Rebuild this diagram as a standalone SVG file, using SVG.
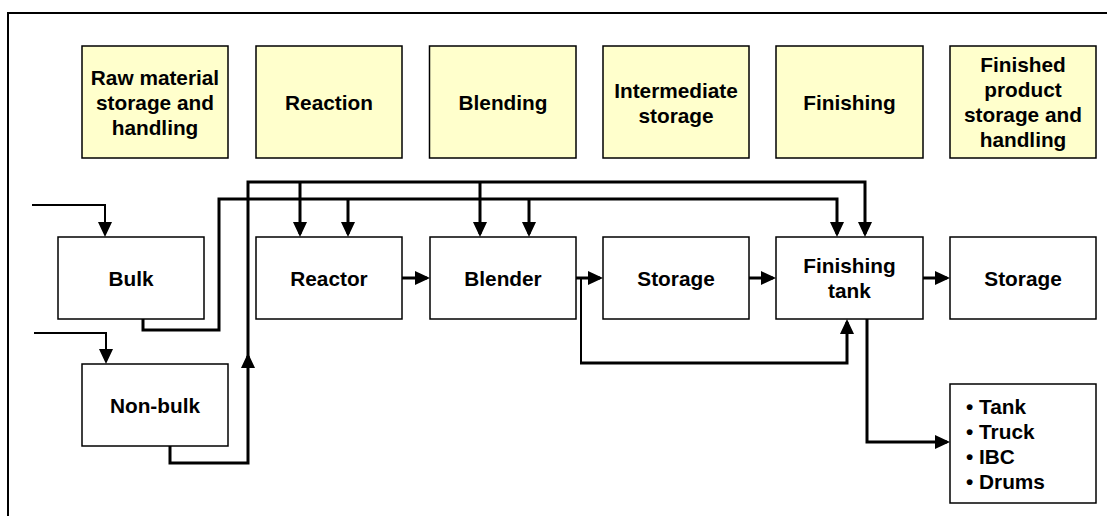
<svg xmlns="http://www.w3.org/2000/svg" width="1107" height="516" viewBox="0 0 1107 516">
<style>
.stage rect{fill:#FFFFCC;stroke:#000;stroke-width:1.5}
.box rect{fill:#fff;stroke:#000;stroke-width:1.5}
text{font-family:"Liberation Sans",Arial,sans-serif;font-weight:bold;font-size:20.8px;fill:#000}
.c text,.stage text,.box text{text-anchor:middle}
.list text{text-anchor:start}
.thick{fill:none;stroke:#000;stroke-width:3;stroke-linejoin:miter}
.thin{fill:none;stroke:#000;stroke-width:2}
</style>
<defs>
<marker id="ah" markerUnits="userSpaceOnUse" markerWidth="16" markerHeight="15" refX="12" refY="7" orient="auto" overflow="visible">
<path d="M0,0 L15,7 L0,14 z" fill="#000"/>
</marker>
</defs>
<rect width="1107" height="516" fill="#fff"/>
<path d="M8,516 V13 H1107" fill="none" stroke="#000" stroke-width="2"/>

<g id="stage-raw" class="stage"><rect x="82" y="46" width="146" height="112"/>
<text x="155" y="85">Raw material</text><text x="155" y="110">storage and</text><text x="155" y="135">handling</text></g>
<g id="stage-reaction" class="stage"><rect x="256" y="46" width="146" height="112"/>
<text x="329" y="109.5">Reaction</text></g>
<g id="stage-blending" class="stage"><rect x="429.5" y="46" width="146.5" height="112"/>
<text x="503" y="109.5">Blending</text></g>
<g id="stage-intermediate" class="stage"><rect x="603" y="46" width="146" height="112"/>
<text x="676" y="98">Intermediate</text><text x="676" y="123">storage</text></g>
<g id="stage-finishing" class="stage"><rect x="776" y="46" width="147" height="112"/>
<text x="849.5" y="109.5">Finishing</text></g>
<g id="stage-finished" class="stage"><rect x="950" y="46" width="146" height="112"/>
<text x="1023" y="72">Finished</text><text x="1023" y="97">product</text><text x="1023" y="122">storage and</text><text x="1023" y="147">handling</text></g>

<g id="bulk" class="box"><rect x="58" y="237" width="146" height="82"/><text x="131" y="285.5">Bulk</text></g>
<g id="nonbulk" class="box"><rect x="82" y="364" width="146" height="82"/><text x="155" y="412.5">Non-bulk</text></g>
<g id="reactor" class="box"><rect x="256" y="237" width="146" height="82"/><text x="329" y="285.5">Reactor</text></g>
<g id="blender" class="box"><rect x="430" y="237" width="146" height="82"/><text x="503" y="285.5">Blender</text></g>
<g id="storage1" class="box"><rect x="603" y="237" width="146" height="82"/><text x="676" y="285.5">Storage</text></g>
<g id="finishing-tank" class="box"><rect x="776" y="237" width="147" height="82"/><text x="849.5" y="273">Finishing</text><text x="849.5" y="298">tank</text></g>
<g id="storage2" class="box"><rect x="950" y="237" width="146" height="82"/><text x="1023" y="285.5">Storage</text></g>
<g id="packaging" class="box list"><rect x="950" y="384" width="146" height="119"/>
<text x="966" y="413.5">• Tank</text><text x="966" y="438.5">• Truck</text><text x="966" y="463.5">• IBC</text><text x="966" y="488.5">• Drums</text></g>

<g id="connectors">
<path class="thin" d="M32,205 H105 V234" marker-end="url(#ah)"/>
<path class="thin" d="M34,333 H106 V361" marker-end="url(#ah)"/>
<path class="thick" d="M143,319 V330 H219 V199 H837 V234" marker-end="url(#ah)"/>
<path class="thick" d="M170,446 V463 H248 V356" marker-end="url(#ah)"/>
<path class="thick" d="M248,357 V182 H865 V234" marker-end="url(#ah)"/>
<path class="thick" d="M300,182 V234" marker-end="url(#ah)"/>
<path class="thick" d="M480,182 V234" marker-end="url(#ah)"/>
<path class="thick" d="M348,199 V234" marker-end="url(#ah)"/>
<path class="thick" d="M529,199 V234" marker-end="url(#ah)"/>
<path class="thick" d="M402,278 H427" marker-end="url(#ah)"/>
<path class="thick" d="M576,278 H600" marker-end="url(#ah)"/>
<path class="thick" d="M749,278 H773" marker-end="url(#ah)"/>
<path class="thick" d="M923,278 H947" marker-end="url(#ah)"/>
<path class="thin" d="M581,278 V363"/>
<path class="thick" d="M580,363 H847 V322" marker-end="url(#ah)"/>
<path class="thick" d="M867,319 V442 H947" marker-end="url(#ah)"/>
</g>
</svg>
